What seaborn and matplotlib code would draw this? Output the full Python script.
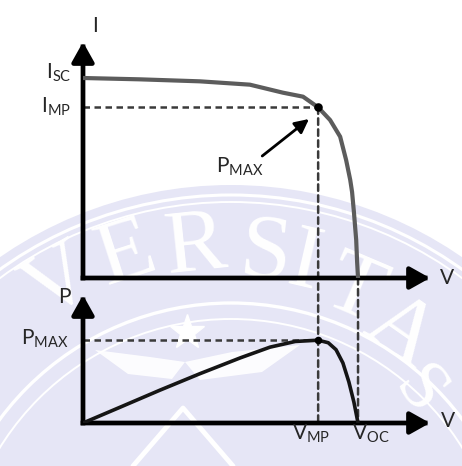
import matplotlib
matplotlib.use("Agg")
import matplotlib.pyplot as plt
import seaborn as sns
from matplotlib.patches import Circle, Polygon, ConnectionPatch

# ---- solar cell characteristic (volts, amps, watts) ----
voltage_iv = [0.000, 0.124, 0.255, 0.364, 0.436, 0.480, 0.513, 0.539, 0.561,
              0.574, 0.583, 0.587, 0.591, 0.596, 0.598, 0.600]
current_iv = [3.00, 2.98, 2.95, 2.90, 2.78, 2.72, 2.56, 2.37, 2.12,
              1.77, 1.47, 1.29, 0.99, 0.57, 0.24, 0.00]

voltage_pv = [0.000, 0.081, 0.168, 0.255, 0.343, 0.408, 0.463, 0.513,
              0.535, 0.552, 0.567, 0.580, 0.591, 0.600]
power_pv = [0.00, 0.25, 0.52, 0.78, 1.03, 1.20, 1.29, 1.31,
            1.27, 1.16, 0.95, 0.65, 0.33, 0.00]

I_SC = 3.00
I_MP = 2.56
V_MP = 0.513
V_OC = 0.600
P_MAX = 1.31

# axis extents (arrow tips)
V_TIP = 0.757
I_TIP = 3.54
P_TIP = 2.025

# watermark lettering
crest_letters = ["V", "E", "R", "S", "I", "T", "A", "S"]
crest_x = [60, 126, 195, 266, 305, 354, 400, 418]
crest_y = [284, 256, 249, 256, 265, 292, 333, 392]
crest_rot = [31, 18, 6, -6, -13, -23, -35, -52]
crest_size = [66, 66, 66, 66, 66, 66, 66, 52]

sns.set_theme(style="white")
plt.rcParams["font.family"] = ["Lato", "DejaVu Sans"]
plt.rcParams["mathtext.fontset"] = "custom"
plt.rcParams["mathtext.rm"] = "Lato"
plt.rcParams["mathtext.default"] = "regular"

W, H = 462, 466
fig = plt.figure(figsize=(W / 100, H / 100), dpi=100)
fig.patch.set_facecolor("white")

# ---- faint crest in the background ----
bg = fig.add_axes([0, 0, 1, 1], zorder=0)
bg.set_xlim(0, W)
bg.set_ylim(H, 0)
bg.axis("off")
cx, cy = 231, 591
bg.add_patch(Circle((cx, cy), 406, fc="#e6e6f6", ec="none"))
bg.add_patch(Circle((cx, cy), 396, fill=False, ec="white", lw=2.2))
bg.add_patch(Circle((cx, cy), 389, fill=False, ec="white", lw=1.4))
bg.add_patch(Circle((cx, cy), 288, fill=False, ec="white", lw=2.4))
bg.add_patch(Circle((cx, cy), 272, fill=False, ec="white", lw=1.4))
for ch, x, y, r, s in zip(crest_letters, crest_x, crest_y, crest_rot, crest_size):
    bg.text(x, y, ch, fontsize=s, family="Liberation Serif", color="white",
            ha="center", va="center", rotation=r, rotation_mode="anchor",
            clip_on=True)
bg.plot([187], [332], marker="*", ms=26, color="white", mec="white")
bg.add_patch(Polygon([(95, 350), (150, 357), (185, 362), (172, 379), (128, 374)],
                     closed=True, fc="white", ec="none", alpha=0.9))
bg.add_patch(Polygon([(185, 362), (232, 352), (300, 345), (262, 372), (200, 380)],
                     closed=True, fc="white", ec="none", alpha=0.9))
bg.plot([133, 183, 233], [466, 408, 466], color="white", lw=3.5)

# ---- axes ----
ax1 = fig.add_axes([83 / W, (H - 278) / H, (430 - 83) / W, (278 - 42) / H], zorder=2)
ax2 = fig.add_axes([83 / W, (H - 423) / H, (430 - 83) / W, (423 - 295) / H], zorder=2)
for ax, top in ((ax1, I_TIP), (ax2, P_TIP)):
    ax.set_xlim(0, V_TIP)
    ax.set_ylim(0, top)
    ax.axis("off")
    ax.patch.set_alpha(0)
    arrow = dict(arrowstyle="-|>,head_length=0.75,head_width=0.42", lw=3.4,
                 color="black", shrinkA=0, shrinkB=0, mutation_scale=16,
                 capstyle="projecting")
    ax.annotate("", xy=(V_TIP, 0), xytext=(0, 0), arrowprops=arrow,
                annotation_clip=False)
    ax.annotate("", xy=(0, top), xytext=(0, 0), arrowprops=arrow,
                annotation_clip=False)

dash = dict(color="#3a3a3a", lw=1.8, dashes=(2.6, 1.8))

# I-V curve
sns.lineplot(x=voltage_iv, y=current_iv, ax=ax1, color="#5c5c5c", lw=3.0,
             estimator=None, sort=False, solid_joinstyle="round", zorder=3)
ax1.plot([0, V_MP], [I_MP, I_MP], **dash, zorder=2)
sns.scatterplot(x=[V_MP], y=[I_MP], ax=ax1, color="black", s=38, zorder=4,
                edgecolor="black", linewidth=0)

# P-V curve
sns.lineplot(x=voltage_pv, y=power_pv, ax=ax2, color="#151515", lw=2.6,
             estimator=None, sort=False, solid_joinstyle="round", zorder=3)
ax2.plot([0, V_MP], [P_MAX, P_MAX], **dash, zorder=2)
sns.scatterplot(x=[V_MP], y=[P_MAX], ax=ax2, color="black", s=30, zorder=4,
                edgecolor="black", linewidth=0)

# drop lines shared by both plots
for xa, ya in ((V_MP, I_MP), (V_OC, 0)):
    con = ConnectionPatch(xyA=(xa, ya), coordsA=ax1.transData,
                          xyB=(xa, 0), coordsB=ax2.transData,
                          color=dash["color"], lw=dash["lw"],
                          linestyle=(0, dash["dashes"]), zorder=1)
    fig.add_artist(con)

# ---- labels ----
fs = 15
off = dict(textcoords="offset points", annotation_clip=False)
ax1.annotate("I", xy=(0, I_TIP), xytext=(9, 11.5), ha="center", va="center",
             fontsize=fs, **off)
ax1.annotate("V", xy=(V_TIP, 0), xytext=(12, 0), ha="center", va="center",
             fontsize=fs, **off)
ax1.annotate(r"I$_{SC}$", xy=(0, I_SC), xytext=(-8, 4), ha="right", va="center",
             fontsize=fs, **off)
ax1.annotate(r"I$_{MP}$", xy=(0, I_MP), xytext=(-9, 0), ha="right", va="center",
             fontsize=fs, **off)
ax1.text(0.290, 1.665, r"P$_{MAX}$", ha="left", va="center", fontsize=fs)
ax1.annotate("", xy=(0.493, 2.385), xytext=(0.391, 1.83),
             arrowprops=dict(arrowstyle="-|>,head_length=0.6,head_width=0.3",
                             lw=2.0, color="black", shrinkA=0, shrinkB=0,
                             mutation_scale=14))

ax2.annotate("P", xy=(0, P_TIP), xytext=(-13.5, -1.5), ha="center", va="center",
             fontsize=fs, **off)
ax2.annotate("V", xy=(V_TIP, 0), xytext=(13, 1.4), ha="center", va="center",
             fontsize=fs, **off)
ax2.annotate(r"P$_{MAX}$", xy=(0, P_MAX), xytext=(-10.5, 1), ha="right",
             va="center", fontsize=fs, **off)
ax2.annotate(r"V$_{MP}$", xy=(V_MP, 0), xytext=(-5, -8), ha="center",
             va="center", fontsize=fs, **off)
ax2.annotate(r"V$_{OC}$", xy=(V_OC, 0), xytext=(9.4, -8), ha="center",
             va="center", fontsize=fs, **off)

fig.savefig("out.png", dpi=100)
